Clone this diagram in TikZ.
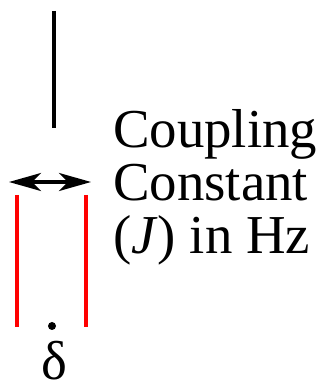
\documentclass[tikz,border=0pt]{standalone}
\usepackage{fontspec}
\setmainfont{Liberation Serif}
\newfontfamily\labelfont{Liberation Serif}
\usetikzlibrary{arrows.meta}

\tikzset{
  bigtext/.style={inner sep=0, font=\labelfont\fontsize{78}{70}\selectfont},
  peak/.style={line width=0.185cm}
}

\begin{document}
\begin{tikzpicture}[>={Stealth[length=1.6cm, width=0.9cm, inset=0.45cm]}]

\useasboundingbox (0, 0) rectangle (16.5, 19.3);

% --- Unsplit peak ---
\coordinate (peaktop) at (2.7, 18.75);
\coordinate (peakbot) at (2.7, 12.9);
\draw[peak] (peaktop) -- (peakbot);

% --- Doublet (red lines) ---
\coordinate (lefttop) at (0.85, 9.55);
\coordinate (leftbot) at (0.85, 2.95);
\coordinate (righttop) at (4.3, 9.55);
\coordinate (rightbot) at (4.3, 2.95);
\draw[peak, red] (lefttop) -- (leftbot);
\draw[peak, red] (righttop) -- (rightbot);

% --- Splitting arrow ---
\coordinate (jleft) at (0.45, 10.2);
\coordinate (jright) at (4.55, 10.2);
\draw[<->, line width=0.2cm] (jleft) -- (jright);

% --- Chemical shift marker ---
\fill (2.6, 3.0) circle (0.2);
\node[bigtext, anchor=north] (delta) at (2.7, 2.25) {δ};

% --- Label (anchored at the last baseline) ---
\node[bigtext, anchor=base west, align=left] (label) at (5.65, 6.6)
  {Coupling\\[6pt]Constant\\[6pt](\textit{J}) in Hz};

\end{tikzpicture}
\end{document}
